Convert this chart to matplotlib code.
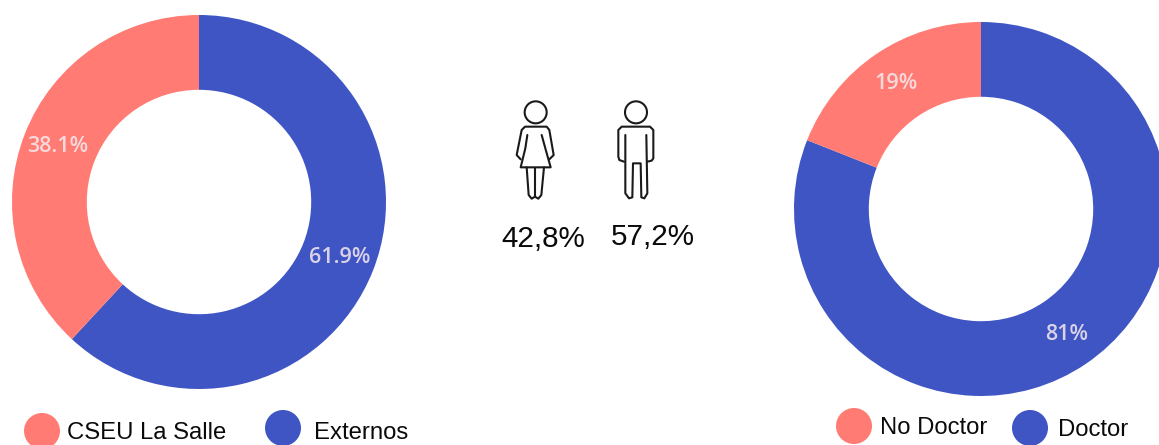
import matplotlib.pyplot as plt
from matplotlib.patches import Circle

plt.rcParams['font.family'] = ['Liberation Sans', 'DejaVu Sans']

W, H = 1159, 445
CORAL = '#FF7B73'
BLUE = '#4055C4'

# datos de los anillos (azul primero, sentido horario desde arriba)
origen_labels = ['Externos', 'CSEU La Salle']
origen_values = [61.9, 38.1]
doctor_labels = ['Doctor', 'No Doctor']
doctor_values = [81, 19]
genero_labels = ['42,8%', '57,2%']


def donut(cx, cy, values):
    r = 187
    ax = fig.add_axes([(cx - r) / W, (H - cy - r) / H, 2 * r / W, 2 * r / H])
    wedges, texts, autotexts = ax.pie(
        values, colors=[BLUE, CORAL], startangle=90, counterclock=False,
        radius=1, autopct=lambda p: f'{p:.3g}%', pctdistance=0.81,
        wedgeprops={'width': 0.4, 'linewidth': 0},
        textprops={'family': ['Open Sans', 'DejaVu Sans'], 'fontsize': 15.5,
                   'fontweight': 'semibold', 'color': '#F6E9EE', 'alpha': 0.85})
    ax.set_xlim(-1, 1)
    ax.set_ylim(-1, 1)
    ax.set_axis_off()
    return ax


fig = plt.figure(figsize=(W / 100, H / 100), dpi=100)

donut(199, 202, origen_values)
donut(981, 209, doctor_values)

# capa en pixeles para iconos y leyendas
over = fig.add_axes([0, 0, 1, 1], zorder=5)
over.set_xlim(0, W)
over.set_ylim(H, 0)
over.set_axis_off()
over.patch.set_alpha(0)


def legend_item(cx, cy, color, label, tx, ty):
    over.add_patch(Circle((cx, cy), 18, color=color, lw=0, clip_on=False))
    over.text(tx, ty, label, fontsize=17.2, ha='left', va='center', color='#0a0a0a')


legend_item(42, 431, CORAL, origen_labels[1], 67, 433)
legend_item(283, 428, BLUE, origen_labels[0], 314, 433)
legend_item(854, 426, CORAL, doctor_labels[1], 880, 428)
legend_item(1030, 428, BLUE, doctor_labels[0], 1058, 430)

# porcentajes de genero
over.text(543, 239, genero_labels[0], fontsize=21.3, ha='center', va='center', color='#0a0a0a')
over.text(653, 237, genero_labels[1], fontsize=21.3, ha='center', va='center', color='#0a0a0a')


# iconos: trazos medidos en el recorte ampliado x3 desde (480, 80)
def stroke(points):
    xs = [480 + p[0] / 3 for p in points]
    ys = [80 + p[1] / 3 for p in points]
    over.plot(xs, ys, color='#1a1a1a', lw=1.5, solid_joinstyle='round', solid_capstyle='round')


over.add_patch(Circle((480 + 167 / 3, 80 + 97 / 3), 11, fill=False, ec='#1a1a1a', lw=1.5))
over.add_patch(Circle((480 + 468 / 3, 80 + 97 / 3), 11, fill=False, ec='#1a1a1a', lw=1.5))

# mujer
stroke([(122, 238), (110, 225), (125, 150), (135, 140), (200, 140), (208, 150),
        (221, 225), (208, 238)])
stroke([(142, 165), (136, 205), (122, 262), (212, 262), (196, 205), (185, 165)])
stroke([(140, 262), (146, 345), (155, 356), (165, 350), (175, 356), (184, 345), (192, 262)])
stroke([(165, 265), (165, 350)])

# hombre
stroke([(432, 245), (418, 240), (415, 230), (415, 150), (425, 140), (510, 140), (520, 150),
        (520, 235), (515, 242), (502, 245)])
stroke([(436, 165), (436, 340), (447, 355), (457, 352), (459, 250), (482, 250), (484, 352),
        (493, 355), (502, 340), (499, 165)])

fig.savefig('out.png', dpi=100)
